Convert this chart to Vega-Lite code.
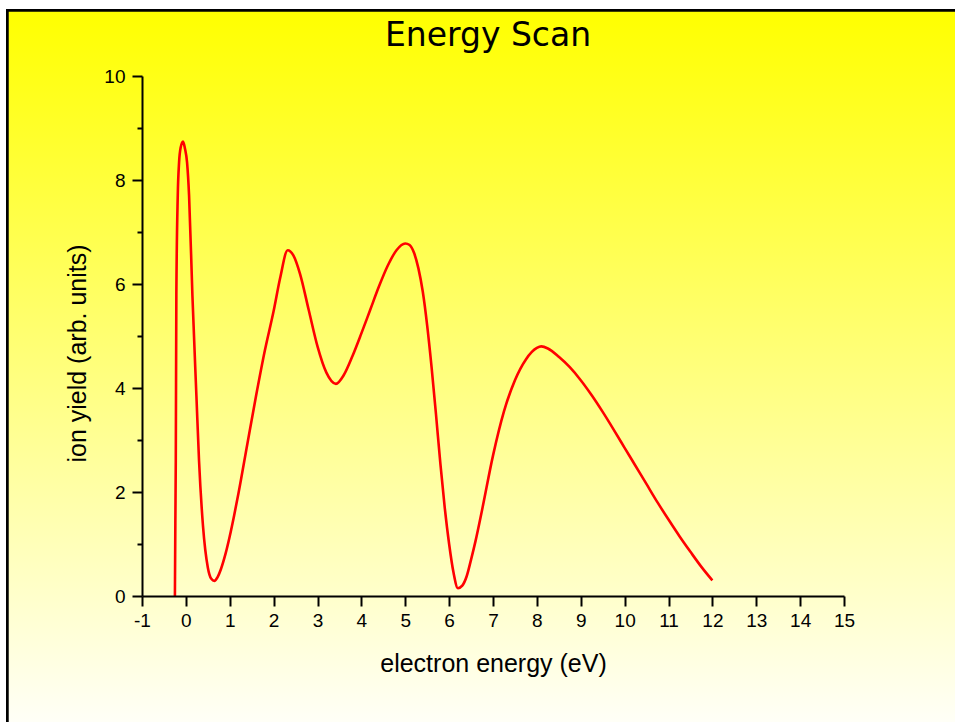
{
  "$schema": "https://vega.github.io/schema/vega-lite/v6.json",
  "autosize": {"type": "none"},
  "padding": {"left": 142, "top": 76, "right": 111, "bottom": 126},
  "width": 702,
  "height": 520,
  "background": "white",
  "title": {
    "text": "Energy Scan",
    "font": "DejaVu Sans",
    "fontSize": 33,
    "fontWeight": "normal",
    "color": "black",
    "anchor": "middle",
    "frame": "group",
    "dx": -5,
    "offset": -44,
    "zindex": 2
  },
  "config": {
    "view": {"stroke": null},
    "axis": {
      "grid": false,
      "domainColor": "black",
      "domainWidth": 2,
      "tickColor": "black",
      "tickWidth": 2,
      "labelFont": "Liberation Sans",
      "labelFontSize": 19,
      "labelColor": "black",
      "labelOverlap": false,
      "labelFlush": false,
      "titleFont": "Liberation Sans",
      "titleFontSize": 25,
      "titleFontWeight": "normal",
      "titleColor": "black"
    }
  },
  "data": {
    "values": [
      {"e": -0.25, "y": 0},
      {"e": -0.24, "y": 1.4},
      {"e": -0.23, "y": 2.6},
      {"e": -0.217, "y": 5.8},
      {"e": -0.185, "y": 7.7},
      {"e": -0.155, "y": 8.34},
      {"e": -0.12, "y": 8.62},
      {"e": -0.064, "y": 8.74},
      {"e": -0.02, "y": 8.6},
      {"e": 0.027, "y": 8.34},
      {"e": 0.073, "y": 7.7},
      {"e": 0.149, "y": 5.78},
      {"e": 0.24, "y": 3.85},
      {"e": 0.3, "y": 2.6},
      {"e": 0.39, "y": 1.35},
      {"e": 0.5, "y": 0.55},
      {"e": 0.58, "y": 0.33},
      {"e": 0.65, "y": 0.29},
      {"e": 0.72, "y": 0.36},
      {"e": 0.8, "y": 0.52},
      {"e": 0.9, "y": 0.8},
      {"e": 1.0, "y": 1.15},
      {"e": 1.1, "y": 1.55},
      {"e": 1.2, "y": 1.98},
      {"e": 1.4, "y": 2.92},
      {"e": 1.6, "y": 3.85},
      {"e": 1.8, "y": 4.72},
      {"e": 2.0, "y": 5.48},
      {"e": 2.15, "y": 6.12},
      {"e": 2.32, "y": 6.65},
      {"e": 2.45, "y": 6.55},
      {"e": 2.6, "y": 6.2},
      {"e": 2.8, "y": 5.5},
      {"e": 3.0, "y": 4.8},
      {"e": 3.2, "y": 4.3},
      {"e": 3.42, "y": 4.08},
      {"e": 3.6, "y": 4.25},
      {"e": 3.8, "y": 4.62},
      {"e": 4.0, "y": 5.05},
      {"e": 4.2, "y": 5.5},
      {"e": 4.4, "y": 5.95},
      {"e": 4.6, "y": 6.35},
      {"e": 4.8, "y": 6.65},
      {"e": 5.0, "y": 6.78},
      {"e": 5.1, "y": 6.75},
      {"e": 5.2, "y": 6.6},
      {"e": 5.3, "y": 6.3},
      {"e": 5.4, "y": 5.85},
      {"e": 5.5, "y": 5.2},
      {"e": 5.6, "y": 4.4},
      {"e": 5.7, "y": 3.5},
      {"e": 5.8, "y": 2.55},
      {"e": 5.9, "y": 1.7},
      {"e": 6.0, "y": 1.0},
      {"e": 6.1, "y": 0.45},
      {"e": 6.2, "y": 0.15},
      {"e": 6.3, "y": 0.2},
      {"e": 6.4, "y": 0.38},
      {"e": 6.5, "y": 0.7},
      {"e": 6.6, "y": 1.05},
      {"e": 6.75, "y": 1.65},
      {"e": 7.0, "y": 2.7},
      {"e": 7.25, "y": 3.55},
      {"e": 7.5, "y": 4.15},
      {"e": 7.75, "y": 4.55},
      {"e": 8.0, "y": 4.77},
      {"e": 8.1, "y": 4.8},
      {"e": 8.25, "y": 4.76},
      {"e": 8.5, "y": 4.6},
      {"e": 8.75, "y": 4.4},
      {"e": 9.0, "y": 4.15},
      {"e": 9.25, "y": 3.86},
      {"e": 9.5, "y": 3.54},
      {"e": 9.75, "y": 3.2},
      {"e": 10.0, "y": 2.85},
      {"e": 10.25, "y": 2.5},
      {"e": 10.5, "y": 2.15},
      {"e": 10.75, "y": 1.8},
      {"e": 11.0, "y": 1.47},
      {"e": 11.25, "y": 1.15},
      {"e": 11.5, "y": 0.85},
      {"e": 11.75, "y": 0.56},
      {"e": 12.0, "y": 0.3}
    ]
  },
  "layer": [
    {
      "mark": {
        "type": "rect",
        "fill": {
          "gradient": "linear",
          "x1": 0, "y1": 0, "x2": 0, "y2": 1,
          "stops": [
            {"offset": 0, "color": "#ffff00"},
            {"offset": 1, "color": "#fffffa"}
          ]
        },
        "stroke": "black",
        "strokeWidth": 2.5
      },
      "encoding": {
        "x": {"datum": -4.066, "type": "quantitative", "scale": {"domain": [-1, 15], "nice": false, "zero": false}},
        "x2": {"datum": 20},
        "y": {"datum": 11.26, "type": "quantitative", "scale": {"domain": [0, 10], "nice": false, "zero": false}},
        "y2": {"datum": -2.6}
      }
    },
    {
      "mark": {"type": "line", "color": "#ff0000", "strokeWidth": 2.6, "interpolate": "monotone"},
      "encoding": {
        "x": {
          "field": "e",
          "type": "quantitative",
          "scale": {"domain": [-1, 15], "nice": false, "zero": false},
          "axis": {
            "zindex": 1,
            "title": "electron energy (eV)",
            "values": [-1, -0.5, 0, 0.5, 1, 1.5, 2, 2.5, 3, 3.5, 4, 4.5, 5, 5.5, 6, 6.5, 7, 7.5, 8, 8.5, 9, 9.5, 10, 10.5, 11, 11.5, 12, 12.5, 13, 13.5, 14, 14.5, 15],
            "tickSize": {"condition": {"test": "datum.value % 1 === 0", "value": 10}, "value": 5},
            "labelExpr": "datum.value % 1 === 0 ? '' + datum.value : ''",
            "labelPadding": 5,
            "titleY": 75,
            "titleBaseline": "alphabetic"
          }
        },
        "y": {
          "field": "y",
          "type": "quantitative",
          "scale": {"domain": [0, 10], "nice": false, "zero": false},
          "axis": {
            "zindex": 1,
            "title": "ion yield (arb. units)",
            "values": [0, 1, 2, 3, 4, 5, 6, 7, 8, 9, 10],
            "tickSize": {"condition": {"test": "datum.value % 2 === 0", "value": 10}, "value": 5},
            "labelExpr": "datum.value % 2 === 0 ? '' + datum.value : ''",
            "labelPadding": 7,
            "titleX": -57,
            "titleY": 277,
            "titleAngle": -90,
            "titleAlign": "center",
            "titleBaseline": "alphabetic"
          }
        }
      }
    }
  ]
}
